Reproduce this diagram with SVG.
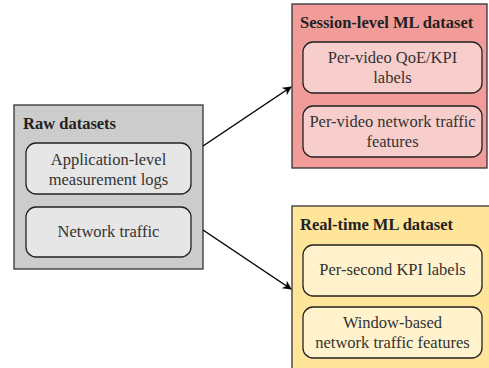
<svg xmlns="http://www.w3.org/2000/svg" width="489" height="368" viewBox="0 0 489 368">
  <defs>
    <marker id="arrow" viewBox="0 0 10 10" refX="9" refY="5" markerWidth="9" markerHeight="9" markerUnits="userSpaceOnUse" orient="auto">
      <path d="M0,0 L10,5 L0,10 L3,5 Z" fill="#000"/>
    </marker>
  </defs>
  <style>
    text { font-family: "Liberation Serif", "DejaVu Serif", serif; fill: #333; }
    .title { font-size: 16.5px; font-weight: bold; fill: #222; }
    .label { font-size: 16.5px; text-anchor: middle; }
    .outer { stroke: #333; stroke-width: 1.3; }
    .inner { stroke: #222; stroke-width: 1.3; }
    .edge { stroke: #000; stroke-width: 1.5; fill: none; marker-end: url(#arrow); }
  </style>

  <!-- source group -->
  <g id="raw-datasets">
    <rect class="outer" x="14" y="105" width="189" height="164" fill="#cccccc"/>
    <text class="title" x="23" y="129">Raw datasets</text>
    <rect class="inner" x="26" y="143" width="165" height="51" rx="10" fill="#e6e6e6"/>
    <text class="label" x="108.5" y="165">Application-level</text>
    <text class="label" x="108.5" y="185">measurement logs</text>
    <rect class="inner" x="26" y="207" width="165" height="50" rx="10" fill="#e6e6e6"/>
    <text class="label" x="108.5" y="237">Network traffic</text>
  </g>

  <!-- session-level output -->
  <g id="session-level">
    <rect class="outer" x="292" y="4" width="195" height="164" fill="#f19c99"/>
    <text class="title" x="300" y="28">Session-level ML dataset</text>
    <rect class="inner" x="303" y="42" width="179" height="51" rx="10" fill="#f8cecc"/>
    <text class="label" x="392.5" y="63">Per-video QoE/KPI</text>
    <text class="label" x="392.5" y="83">labels</text>
    <rect class="inner" x="303" y="106" width="179" height="51" rx="10" fill="#f8cecc"/>
    <text class="label" x="392.5" y="127">Per-video network traffic</text>
    <text class="label" x="392.5" y="147">features</text>
  </g>

  <!-- real-time output -->
  <g id="real-time">
    <rect class="outer" x="292" y="206" width="200" height="170" fill="#ffe599"/>
    <text class="title" x="300" y="230">Real-time ML dataset</text>
    <rect class="inner" x="303" y="245" width="179" height="51" rx="10" fill="#fff2cc"/>
    <text class="label" x="392.5" y="275">Per-second KPI labels</text>
    <rect class="inner" x="303" y="307" width="179" height="51" rx="10" fill="#fff2cc"/>
    <text class="label" x="392.5" y="328">Window-based</text>
    <text class="label" x="392.5" y="348">network traffic features</text>
  </g>

  <g id="connectors">
    <line class="edge" x1="203" y1="146" x2="291" y2="87"/>
    <line class="edge" x1="203" y1="230" x2="291" y2="289"/>
  </g>
</svg>
